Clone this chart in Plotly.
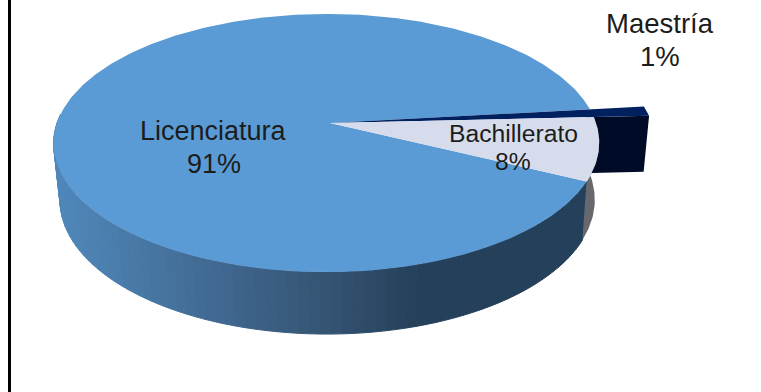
import numpy as np
import plotly.graph_objects as go

# Education level shares (percent)
categories = ["Licenciatura", "Maestría", "Bachillerato"]
shares = [91, 1, 8]
top_colors = ["#5B9BD5", "#002060", "#D6DCEC"]
wall_colors = [None, "#000B28", "#66686E"]
label_x = [213.5, 660, 513]
name_y = [130.5, 23.5, 133]
value_y = [163.5, 56, 161]
label_sizes = [27, 27.5, 24.7]

WIDTH, HEIGHT = 761, 392
START_DEG = 26.0          # clockwise from east, screen sense
EXPLODE = [1.0, 1.215, 1.0]


def project(theta_deg, r=1.0):
    """Perspective projection of a disc point to pixel coordinates."""
    t = np.radians(theta_deg)
    x, y = r * np.cos(t), r * np.sin(t)
    w = 1 - 0.155 * y + 0.013 * x
    return 330 + 269.5 * x / w, 123 + 126 * y / w


def lower(px, py):
    """Same point on the underside of the disc."""
    return 327.5 + (px - 326.5) * 0.98, py + 51.6 + 0.038 * py


def wall_color(px):
    stops_x = [50, 120, 220, 330, 420, 620]
    stops_c = np.array([[80, 136, 188], [74, 124, 170], [64, 104, 144],
                        [53, 83, 114], [36, 64, 90], [36, 64, 90]])
    rgb = [np.interp(px, stops_x, stops_c[:, i]) for i in range(3)]
    return "rgb(%d,%d,%d)" % tuple(rgb)


def poly(xs, ys, color, line=0.0):
    return go.Scatter(x=list(xs), y=list(ys), mode="lines", fill="toself",
                      fillcolor=color, line=dict(color=color, width=line),
                      hoverinfo="skip", showlegend=False)


# Slice angular ranges, walking clockwise
spans = []
angle = START_DEG
for v in shares:
    sweep = 360.0 * v / sum(shares)
    spans.append((angle, angle + sweep))
    angle += sweep

fig = go.Figure()

# Shaded outer wall of the large slice, one narrow strip per step
lic_start, lic_end = spans[0]
edges = np.arange(lic_start, 185.0, 2.0)
for a0, a1 in zip(edges[:-1], edges[1:]):
    ts = np.linspace(a0, a1, 3)
    tx, ty = project(ts)
    bx, by = lower(tx, ty)
    fig.add_trace(poly(np.r_[tx, bx[::-1], tx[0]], np.r_[ty, by[::-1], ty[0]],
                       wall_color(tx.mean()), line=1))

# Top of the large slice
ts = np.linspace(lic_start, lic_end, 400)
tx, ty = project(ts)
fig.add_trace(poly(np.r_[330, tx, 330], np.r_[123, ty, 123], top_colors[0]))

# Exploded thin slice: end wall, then top
m0, m1 = spans[1]
mx, my = project(np.array([m1, m1]), np.array([0.97, EXPLODE[1]]))
bx, by = lower(mx, my)
fig.add_trace(poly([mx[0], mx[1], bx[1], bx[0], mx[0]],
                   [my[0], my[1], by[1], by[0], my[0]], wall_colors[1]))
ox, oy = project(np.array([m0, m1]), EXPLODE[1])
fig.add_trace(poly([330, ox[0], ox[1], 330], [123, oy[0], oy[1], 123], top_colors[1]))

# Small slice: wall, then top
b0, b1 = spans[2]
ts = np.linspace(b0, b1, 40)
tx, ty = project(ts)
bx, by = lower(tx, ty)
fig.add_trace(poly(np.r_[tx, bx[::-1], tx[0]], np.r_[ty, by[::-1], ty[0]], wall_colors[2]))
fig.add_trace(poly(np.r_[330, tx, 330], np.r_[123, ty, 123], top_colors[2]))

for name, v, lx, ny, vy, size in zip(categories, shares, label_x, name_y, value_y, label_sizes):
    for text, ly in ((name, ny), (f"{v}%", vy)):
        fig.add_annotation(x=lx, y=ly, text=text, showarrow=False, xref="x", yref="y",
                           font=dict(family="Liberation Sans", size=size, color="#1c1c1c"))

fig.update_layout(
    width=WIDTH, height=HEIGHT, margin=dict(l=0, r=0, t=0, b=0),
    paper_bgcolor="white", plot_bgcolor="white", showlegend=False,
    xaxis=dict(range=[0, WIDTH], visible=False, fixedrange=True),
    yaxis=dict(range=[HEIGHT, 0], visible=False, fixedrange=True),
    shapes=[dict(type="line", x0=9.5, x1=9.5, y0=0, y1=HEIGHT, xref="x", yref="y",
                 line=dict(color="black", width=3))],
)
fig.write_html("out.html", config={"displayModeBar": False})
